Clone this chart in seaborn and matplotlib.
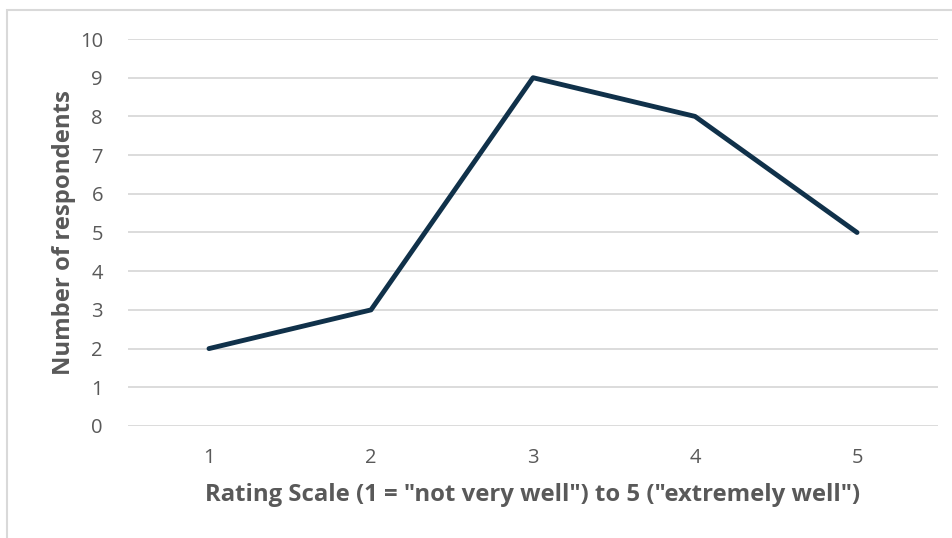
import matplotlib
matplotlib.use("Agg")
import pandas as pd
import seaborn as sns
import matplotlib.pyplot as plt
from matplotlib.patches import Rectangle

# Survey responses per rating
ratings = ["1", "2", "3", "4", "5"]
respondents = [2, 3, 9, 8, 5]
y_ticks = [0, 1, 2, 3, 4, 5, 6, 7, 8, 9, 10]

df = pd.DataFrame({"rating": ratings, "count": respondents})

sns.set_style("white")
plt.rcParams["font.family"] = ["Open Sans", "DejaVu Sans"]

fig = plt.figure(figsize=(9.53, 5.38), dpi=100)
ax = fig.add_axes([0.1343, 0.2082, 0.85, 0.7193])

# light frame around the chart area (top-left corner only visible)
fig.patches.append(Rectangle((7 / 953, -0.1), 1.2, 1 - 10 / 538 + 0.1,
                             transform=fig.transFigure, fill=False,
                             edgecolor="#d9d9d9", linewidth=1.5))

sns.lineplot(data=df, x="rating", y="count", ax=ax, color="#10314a",
             linewidth=3.5, sort=False)

ax.set_ylim(0, 10)
ax.set_xlim(-0.5, 4.5)
ax.set_yticks(y_ticks)
ax.yaxis.grid(True, color="#d9d9d9", linewidth=1.3)
ax.set_axisbelow(True)
for s in ax.spines.values():
    s.set_visible(False)
ax.tick_params(axis="both", length=0, labelsize=14.5, labelcolor="#595959")
ax.tick_params(axis="y", pad=18)
ax.tick_params(axis="x", pad=16)

ax.set_xlabel('Rating Scale (1 = "not very well") to 5 ("extremely well")',
              fontsize=17.2, fontweight="bold", color="#595959", labelpad=11)
ax.set_ylabel("Number of respondents", fontsize=17.2, fontweight="bold",
              color="#595959", labelpad=3)

fig.savefig("out.png", dpi=100)
